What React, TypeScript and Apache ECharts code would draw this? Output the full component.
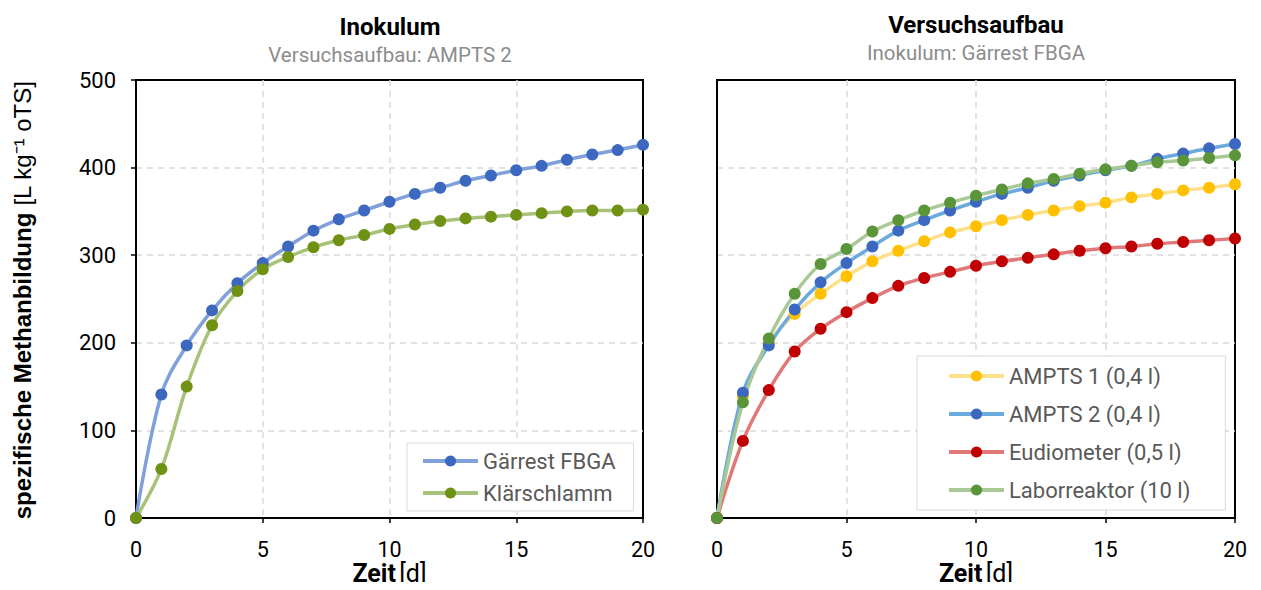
import React, { useEffect, useRef } from "react";
import * as echarts from "echarts";

const days = [0, 1, 2, 3, 4, 5, 6, 7, 8, 9, 10, 11, 12, 13, 14, 15, 16, 17, 18, 19, 20];

const inokGaerrest = [0, 141, 197, 237, 268, 291, 310, 328, 341, 351, 361, 370, 377, 385, 391, 397, 402, 409, 415, 420, 426];
const inokKlaer = [0, 56, 150, 220, 259, 284, 298, 309, 317, 323, 330, 335, 339, 342, 344, 346, 348, 350, 351, 351, 352];

const ampts1 = [0, 139, 200, 233, 256, 276, 293, 305, 316, 326, 333, 340, 346, 351, 356, 360, 366, 370, 374, 377, 381];
const ampts2 = [0, 143, 197, 238, 269, 291, 310, 328, 340, 351, 361, 370, 377, 385, 391, 397, 402, 410, 416, 422, 427];
const eudio = [0, 88, 146, 190, 216, 235, 251, 265, 274, 281, 288, 293, 297, 301, 305, 308, 310, 313, 315, 317, 319];
const labor = [0, 132, 205, 256, 290, 307, 327, 340, 351, 360, 368, 375, 382, 387, 393, 398, 402, 406, 408, 411, 414];

const leftNames = ["Gärrest FBGA", "Klärschlamm"];
const rightNames = ["AMPTS 1 (0,4 l)", "AMPTS 2 (0,4 l)", "Eudiometer (0,5 l)", "Laborreaktor (10 l)"];

const FONT = "Roboto, 'Noto Sans', sans-serif";
const ARIAL = "'Liberation Sans', Arial, sans-serif";

function pts(vals: number[]) {
  return days.map((d, i) => [d, vals[i]]);
}

function mkSeries(name: string, vals: number[], idx: number, line: string, marker: string) {
  return {
    type: "line",
    name,
    xAxisIndex: idx,
    yAxisIndex: idx,
    data: pts(vals),
    smooth: 0.35,
    symbol: "circle",
    symbolSize: 12,
    lineStyle: { color: line, width: 3.5 },
    itemStyle: { color: marker },
    color: marker,
  };
}

export default function App() {
  const ref = useRef<HTMLDivElement>(null);
  useEffect(() => {
    if (!ref.current) return;
    const chart = echarts.init(ref.current, undefined, { renderer: "svg" });
    const splitLine = {
      show: true,
      showMinLine: false,
      showMaxLine: false,
      lineStyle: { color: "#d9d9d9", width: 1.5, type: [6, 5] },
    };
    const axisLine = { show: true, onZero: false, lineStyle: { color: "#000", width: 2 } };
    const xAxisBase = (idx: number) => ({
      type: "value",
      gridIndex: idx,
      min: 0,
      max: 20,
      interval: 5,
      axisLine,
      axisTick: { show: true, inside: false, length: 5, lineStyle: { color: "#000", width: 1.5 } },
      axisLabel: { color: "#000", fontSize: 21.5, lineHeight: 20, fontFamily: FONT, margin: 21 },
      splitLine,
      name: "{b|Zeit} {n|[d]}",
      nameLocation: "middle",
      nameGap: 43,
      nameMoveOverlap: false,
      nameTextStyle: {
        rich: {
          b: { fontWeight: "bold", fontSize: 25, lineHeight: 25, fontFamily: FONT, color: "#000" },
          n: { fontSize: 25, lineHeight: 25, fontFamily: FONT, color: "#000" },
        },
      },
    });
    const legendBase = {
      orient: "vertical",
      itemWidth: 55,
      itemHeight: 14,
      borderColor: "#d9d9d9",
      borderWidth: 1,
      backgroundColor: "#fff",
      lineStyle: { width: 4 },
      textStyle: { color: "#595959", fontSize: 22, fontFamily: FONT, lineHeight: 21 },
    };
    const centerText = (x: number, y: number, text: string, font: string, fill: string) => ({
      type: "text",
      x,
      y,
      style: {
        text,
        font,
        fill,
        textAlign: "center",
        textVerticalAlign: "middle",
        align: "center",
        verticalAlign: "middle",
      },
    });
    const gridBase = {
      top: 80,
      bottom: 72,
      show: true,
      borderColor: "#000",
      borderWidth: 2,
      containLabel: false,
      outerBoundsMode: "none",
    };
    const option: any = {
      animation: false,
      backgroundColor: "#fff",
      grid: [
        { ...gridBase, left: 136, right: 1261 - 643 },
        { ...gridBase, left: 717, right: 1261 - 1235 },
      ],
      xAxis: [xAxisBase(0), xAxisBase(1)],
      yAxis: [
        {
          type: "value",
          gridIndex: 0,
          min: 0,
          max: 500,
          interval: 100,
          axisLine,
          axisTick: { show: true, length: 5, lineStyle: { color: "#000", width: 1.5 } },
          axisLabel: { color: "#000", fontSize: 22, fontFamily: FONT, margin: 20 },
          splitLine,
        },
        {
          type: "value",
          gridIndex: 1,
          min: 0,
          max: 500,
          interval: 100,
          axisLine,
          axisTick: { show: false },
          axisLabel: { show: false },
          splitLine,
        },
      ],
      legend: [
        {
          ...legendBase,
          data: leftNames,
          left: 407,
          top: 443,
          padding: [7, 18, 7, 14],
          itemGap: 10,
        },
        {
          ...legendBase,
          data: rightNames,
          left: 917,
          top: 356,
          padding: [9, 35, 9, 30],
          itemGap: 16,
        },
      ],
      graphic: [
        centerText(390, 27, "Inokulum", `bold 24px ${FONT}`, "#000"),
        centerText(390, 55, "Versuchsaufbau: AMPTS 2", `20.5px ${FONT}`, "#8c8c8c"),
        centerText(976, 25, "Versuchsaufbau", `bold 24px ${FONT}`, "#000"),
        centerText(976, 53, "Inokulum: Gärrest FBGA", `20.5px ${FONT}`, "#8c8c8c"),
        {
          type: "text",
          x: 22,
          y: 300,
          rotation: Math.PI / 2,
          style: {
            text: "{b|spezifische Methanbildung}  {n|[L kg⁻¹ oTS]}",
            textAlign: "center",
            textVerticalAlign: "middle",
            align: "center",
            verticalAlign: "middle",
            rich: {
              b: { fontWeight: "bold", fontSize: 24, fontFamily: ARIAL, fill: "#000", color: "#000" },
              n: { fontSize: 24, fontFamily: ARIAL, fill: "#000", color: "#000" },
            },
          },
        },
      ],
      series: [
        mkSeries(leftNames[0], inokGaerrest, 0, "#7fa0da", "#3c68c0"),
        mkSeries(leftNames[1], inokKlaer, 0, "#a9c27a", "#6f9114"),
        mkSeries(rightNames[0], ampts1, 1, "#ffe08a", "#ffc000"),
        mkSeries(rightNames[1], ampts2, 1, "#6aaadd", "#3c68c0"),
        mkSeries(rightNames[2], eudio, 1, "#e07878", "#c00000"),
        mkSeries(rightNames[3], labor, 1, "#a8c996", "#5a9639"),
      ],
    };
    chart.setOption(option);
    return () => chart.dispose();
  }, []);
  return <div ref={ref} style={{ width: 1261, height: 590, margin: -8 }} />;
}
